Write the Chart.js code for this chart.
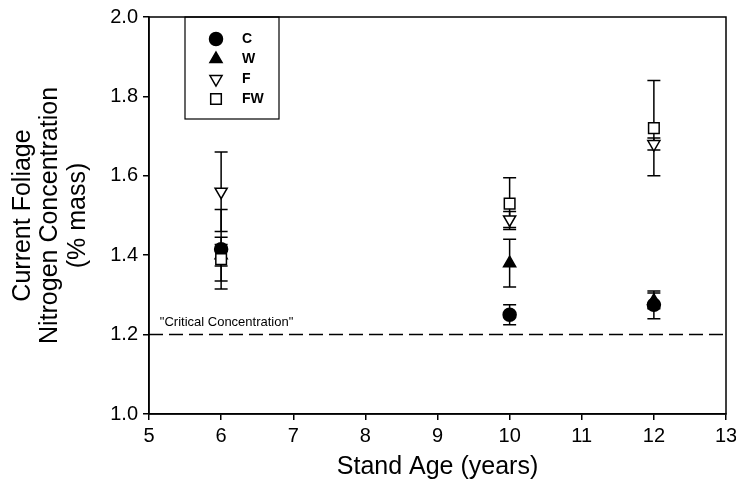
<!DOCTYPE html>
<html lang="en">
<head>
  <meta charset="UTF-8">
  <title>Foliage Nitrogen vs Stand Age</title>
  <script src="https://cdn.jsdelivr.net/npm/chart.js"></script>
  <style>
    html, body { margin: 0; padding: 0; background: #fff; }
    #box { width: 736px; height: 494px; }
  </style>
</head>
<body>
  <div id="box"><canvas id="grafico" width="736" height="494"></canvas></div>

<script>
  // dados
  var idades = [6, 10, 12];
  var cMedia = [1.415, 1.25, 1.275];
  var cErro = [0.1, 0.025, 0.035];
  var wMedia = [1.40, 1.38, 1.285];
  var wErro = [0.027, 0.06, 0.02];
  var fMedia = [1.56, 1.49, 1.68];
  var fErro = [0.1, 0.02, 0.015];
  var fwMedia = [1.39, 1.53, 1.72];
  var fwErro = [0.055, 0.065, 0.12];
  var critico = 1.2;
  var xTicks = [5, 6, 7, 8, 9, 10, 11, 12, 13];
  var yTicks = [1.0, 1.2, 1.4, 1.6, 1.8, 2.0];

  function pontos(medias, erros) {
    var lista = [];
    for (let i = 0; i < idades.length; i++) {
      lista.push({ x: idades[i], y: medias[i], err: erros[i] });
    }
    return lista;
  }

  // barras de erro (antes dos marcadores)
  var barrasErro = {
    id: 'barrasErro',
    beforeDatasetsDraw(chart) {
      var ctx = chart.ctx;
      var xs = chart.scales.x, ys = chart.scales.y;
      ctx.save();
      ctx.strokeStyle = '#000';
      ctx.lineWidth = 1.5;
      chart.data.datasets.forEach(ds => {
        if (ds.type === 'line') return;
        ds.data.forEach(p => {
          var px = xs.getPixelForValue(p.x);
          var top = ys.getPixelForValue(p.y + p.err);
          var bot = ys.getPixelForValue(p.y - p.err);
          ctx.beginPath();
          ctx.moveTo(px, top); ctx.lineTo(px, bot);
          ctx.moveTo(px - 6.5, top); ctx.lineTo(px + 6.5, top);
          ctx.moveTo(px - 6.5, bot); ctx.lineTo(px + 6.5, bot);
          ctx.stroke();
        });
      });
      ctx.restore();
    }
  };

  // moldura, legenda e texto da linha critica
  var extras = {
    id: 'extras',
    afterDraw(chart) {
      var ctx = chart.ctx;
      var a = chart.chartArea;
      var xs = chart.scales.x, ys = chart.scales.y;
      ctx.save();
      ctx.strokeStyle = '#000';
      ctx.lineWidth = 1.5;
      ctx.strokeRect(a.left, a.top, a.right - a.left, a.bottom - a.top);

      ctx.fillStyle = '#000';
      ctx.font = '13px "Liberation Sans", Arial, sans-serif';
      ctx.textBaseline = 'middle';
      ctx.textAlign = 'left';
      ctx.fillText('"Critical Concentration"', xs.getPixelForValue(5.15), ys.getPixelForValue(1.23));

      // legenda
      ctx.lineWidth = 1.2;
      ctx.strokeRect(185, 17, 94, 102);
      var itens = [
        { nome: 'C', estilo: 'circle', rot: 0, cor: '#000', r: 6.5 },
        { nome: 'W', estilo: 'triangle', rot: 0, cor: '#000', r: 7 },
        { nome: 'F', estilo: 'triangle', rot: 180, cor: '#fff', r: 7 },
        { nome: 'FW', estilo: 'rect', rot: 0, cor: '#fff', r: 7.5 }
      ];
      var linhas = [39, 59, 79, 99];
      ctx.font = 'bold 14px "Liberation Sans", Arial, sans-serif';
      itens.forEach((it, i) => {
        ctx.fillStyle = it.cor;
        ctx.strokeStyle = '#000';
        ctx.lineWidth = 1.5;
        Chart.helpers.drawPoint(ctx, { pointStyle: it.estilo, radius: it.r, rotation: it.rot, borderWidth: 1.5 }, 216, linhas[i]);
        ctx.fillStyle = '#000';
        ctx.fillText(it.nome, 242, linhas[i]);
      });
      ctx.restore();
    }
  };

  var fonte = '"Liberation Sans", Arial, sans-serif';

  var config = {
    type: 'scatter',
    data: {
      datasets: [
        {
          type: 'line',
          label: 'Critical',
          data: [{ x: xTicks[0], y: critico }, { x: xTicks[xTicks.length - 1], y: critico }],
          borderColor: '#000',
          borderWidth: 1.5,
          borderDash: [14, 6],
          pointRadius: 0,
          fill: false,
          order: 10
        },
        { label: 'W', data: pontos(wMedia, wErro), pointStyle: 'triangle', pointRadius: 7, backgroundColor: '#000', borderColor: '#000', borderWidth: 1.5, order: 4 },
        { label: 'C', data: pontos(cMedia, cErro), pointStyle: 'circle', pointRadius: 6.5, backgroundColor: '#000', borderColor: '#000', borderWidth: 1.5, order: 3 },
        { label: 'F', data: pontos(fMedia, fErro), pointStyle: 'triangle', rotation: 180, pointRadius: 7, backgroundColor: '#fff', borderColor: '#000', borderWidth: 1.5, order: 2 },
        { label: 'FW', data: pontos(fwMedia, fwErro), pointStyle: 'rect', pointRadius: 7.5, backgroundColor: '#fff', borderColor: '#000', borderWidth: 1.5, order: 1 }
      ]
    },
    options: {
      responsive: false,
      animation: false,
      events: [],
      layout: { padding: { left: 0, right: 0, top: 15, bottom: 0 } },
      plugins: {
        legend: { display: false },
        tooltip: { enabled: false }
      },
      scales: {
        x: {
          type: 'linear',
          min: xTicks[0],
          max: xTicks[xTicks.length - 1],
          afterFit: s => { s.height = 80; s.paddingRight = 10; },
          afterBuildTicks: s => { s.ticks = xTicks.map(v => ({ value: v })); },
          grid: { drawOnChartArea: false, drawTicks: true, tickLength: 6, color: '#000', lineWidth: 1.5 },
          border: { display: true, color: '#000', width: 1.5 },
          ticks: { color: '#000', font: { family: fonte, size: 20 }, padding: 4, maxRotation: 0 },
          title: {
            display: true,
            text: 'Stand Age (years)',
            color: '#000',
            font: { family: fonte, size: 25 },
            padding: { top: 0, bottom: 12 }
          }
        },
        y: {
          type: 'linear',
          min: yTicks[0],
          max: yTicks[yTicks.length - 1],
          afterFit: s => { s.width = 149; },
          afterBuildTicks: s => { s.ticks = yTicks.map(v => ({ value: v })); },
          grid: { drawOnChartArea: false, drawTicks: true, tickLength: 6, color: '#000', lineWidth: 1.5 },
          border: { display: true, color: '#000', width: 1.5 },
          ticks: { color: '#000', font: { family: fonte, size: 20 }, padding: 5, callback: v => v.toFixed(1) },
          title: {
            display: true,
            text: ['Current Foliage', 'Nitrogen Concentration', '(% mass)'],
            color: '#000',
            font: { family: fonte, size: 25, lineHeight: 1.1 },
            padding: { top: 9, bottom: 0 }
          }
        }
      }
    },
    plugins: [barrasErro, extras]
  };

  new Chart(document.getElementById('grafico').getContext('2d'), config);
</script>
</body>
</html>
